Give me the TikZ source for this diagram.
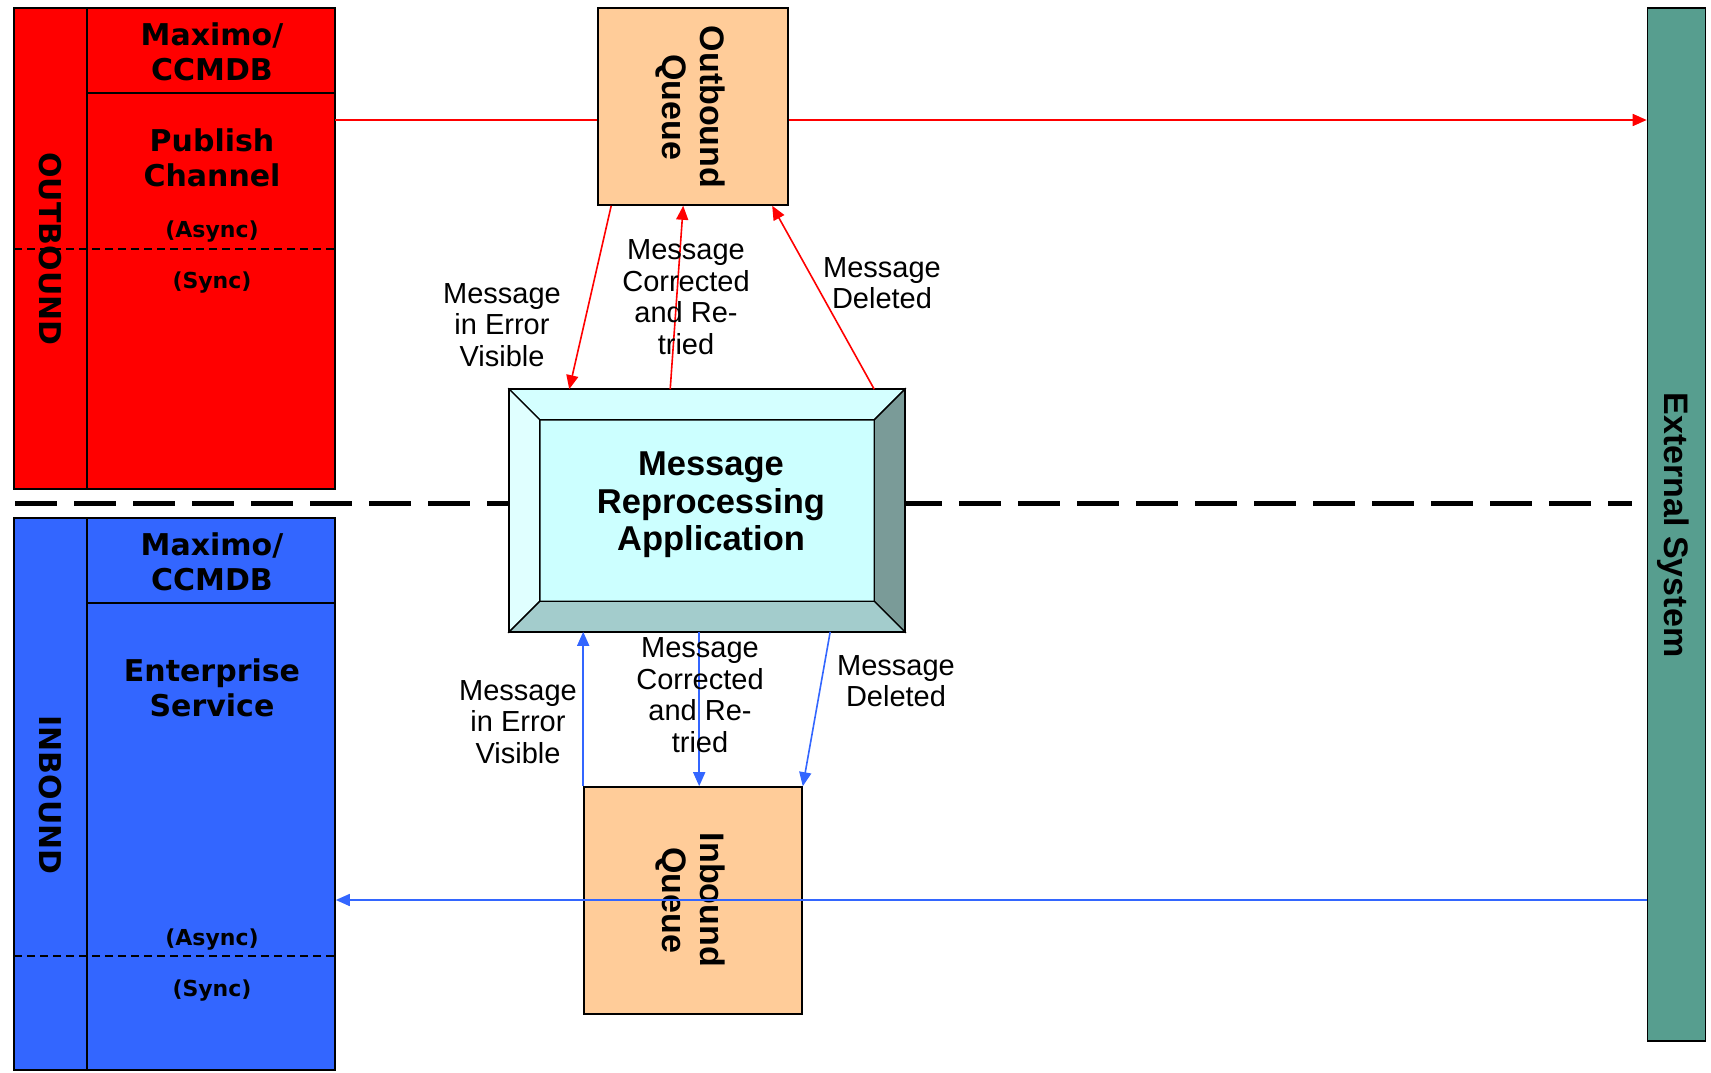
\documentclass[tikz,border=0pt]{standalone}
\usepackage{fontspec}
\setmainfont{Liberation Sans}
\newfontfamily\verdfont{DejaVu Sans}
\usetikzlibrary{arrows.meta}
\definecolor{outred}{HTML}{FF0000}
\definecolor{inblue}{HTML}{3366FF}
\definecolor{queuefill}{HTML}{FFCC99}
\definecolor{extfill}{HTML}{579E8F}
\definecolor{mracore}{HTML}{CCFFFF}
\definecolor{mraleft}{HTML}{E0FFFF}
\definecolor{mratop}{HTML}{D4FFFF}
\definecolor{mraright}{HTML}{7A9B98}
\definecolor{mrabottom}{HTML}{A3CCCC}

\begin{document}
\begin{tikzpicture}[x=1pt,y=-1pt,>={Triangle[length=14pt,width=12pt]},
  box/.style={draw=black,line width=1.6pt,inner sep=0pt},
  sysbig/.style={font=\verdfont\bfseries\fontsize{30}{35}\selectfont,align=center},
  syssmall/.style={font=\verdfont\bfseries\fontsize{22}{26}\selectfont},
  lbl/.style={font=\fontsize{29}{31.5}\selectfont,align=center},
  qtext/.style={font=\bfseries\fontsize{34}{38}\selectfont,align=center,rotate=-90},
  redline/.style={draw=outred,line width=1.6pt},
  blueline/.style={draw=inblue,line width=1.6pt},
  thindash/.style={line width=1.2pt,dash pattern=on 8pt off 5pt}]
  \useasboundingbox (0,0) rectangle (1711,1073);

  % outbound side
  \node[box,fill=outred,minimum width=321pt,minimum height=481pt] (outsys) at (174.5,248.5) {};
  \draw[line width=1.4pt] (87,8) -- (87,489);
  \draw[line width=1.4pt] (87,93) -- (335,93);
  \draw[thindash] (14,249) -- (335,249);
  \node[sysbig,rotate=-90] (outlbl) at (50,249) {OUTBOUND};
  \node[sysbig] (outmax) at (212,52) {Maximo/\\CCMDB};
  \node[sysbig] (pubch) at (212,158) {Publish\\Channel};
  \node[syssmall] (outasync) at (212,232) {(Async)};
  \node[syssmall] (outsync) at (212,283) {(Sync)};

  % inbound side
  \node[box,fill=inblue,minimum width=321pt,minimum height=552pt] (insys) at (174.5,794) {};
  \draw[line width=1.4pt] (87,518) -- (87,1070);
  \draw[line width=1.4pt] (87,603) -- (335,603);
  \draw[thindash] (14,956) -- (335,956);
  \node[sysbig,rotate=-90] (inlbl) at (50,795) {INBOUND};
  \node[sysbig] (inmax) at (212,562) {Maximo/\\CCMDB};
  \node[sysbig] (entsvc) at (212,688) {Enterprise\\Service};
  \node[syssmall] (inasync) at (212,940) {(Async)};
  \node[syssmall] (insync) at (212,991) {(Sync)};

  % external system
  \node[box,fill=extfill,minimum width=58pt,minimum height=1033pt] (ext) at (1676.5,524.5) {};
  \node[font=\bfseries\fontsize{34}{38}\selectfont,rotate=-90] (exttext) at (1673,525) {External System};

  % split line
  \coordinate (splitl) at (15,503);
  \coordinate (splitr) at (1632,503);
  \draw[line width=5pt,dash pattern=on 42pt off 17pt] (splitl) -- (splitr);

  % reprocessing application
  \node[box,fill=mracore,minimum width=394pt,minimum height=241pt] (mra) at (707,510.5) {};
  \node[inner sep=0pt,minimum width=334pt,minimum height=181pt] (mrain) at (707,510.5) {};
  \filldraw[fill=mratop,line width=1.4pt] (mra.north west) -- (mra.north east) -- (mrain.north east) -- (mrain.north west) -- cycle;
  \filldraw[fill=mraleft,line width=1.4pt] (mra.north west) -- (mrain.north west) -- (mrain.south west) -- (mra.south west) -- cycle;
  \filldraw[fill=mraright,line width=1.4pt] (mra.north east) -- (mra.south east) -- (mrain.south east) -- (mrain.north east) -- cycle;
  \filldraw[fill=mrabottom,line width=1.4pt] (mra.south west) -- (mrain.south west) -- (mrain.south east) -- (mra.south east) -- cycle;
  \draw[line width=1.6pt] (mra.north west) rectangle (mra.south east);
  \node[font=\bfseries\fontsize{34.5}{37.5}\selectfont,align=center] (mratext) at (711,505) {Message\\Reprocessing\\Application};

  % queues
  \node[box,fill=queuefill,minimum width=190pt,minimum height=197pt] (oq) at (693,106.5) {};
  \node[qtext] (oqtext) at (690,107) {Outbound\\Queue};
  \node[box,fill=queuefill,minimum width=218pt,minimum height=227pt] (iq) at (693,900.5) {};
  \node[qtext] (iqtext) at (690,900) {Inbound\\Queue};

  % outbound flow
  \coordinate (pubout) at (335,120);
  \draw[redline] (pubout) -- (pubout -| oq.west);
  \draw[redline,->] (pubout -| oq.east) -- (pubout -| ext.west);
  \draw[redline,->] ([xshift=14pt]oq.south west) -- ([xshift=60pt]mra.north west);
  \draw[redline,->] ([xshift=161pt]mra.north west) -- ([xshift=86pt]oq.south west);
  \draw[redline,->] ([xshift=365pt]mra.north west) -- ([xshift=175pt]oq.south west);
  \node[lbl] (oerr) at (502,325) {Message\\in Error\\Visible};
  \node[lbl] (ocorr) at (686,297) {Message\\Corrected\\and Re-\\tried};
  \node[lbl] (odel) at (882,283) {Message\\Deleted};

  % inbound flow
  \coordinate (extin) at (1647,900);
  \draw[blueline,->] (extin) -- (extin -| insys.east);
  \draw[blueline,->] (iq.north west) -- (iq.north west |- mra.south);
  \draw[blueline,->] ([xshift=190pt]mra.south west) -- ([xshift=116pt]iq.north west);
  \draw[blueline,->] ([xshift=321pt]mra.south west) -- (iq.north east);
  \node[lbl] (ierr) at (518,722) {Message\\in Error\\Visible};
  \node[lbl] (icorr) at (700,695) {Message\\Corrected\\and Re-\\tried};
  \node[lbl] (idel) at (896,681) {Message\\Deleted};
\end{tikzpicture}
\end{document}
